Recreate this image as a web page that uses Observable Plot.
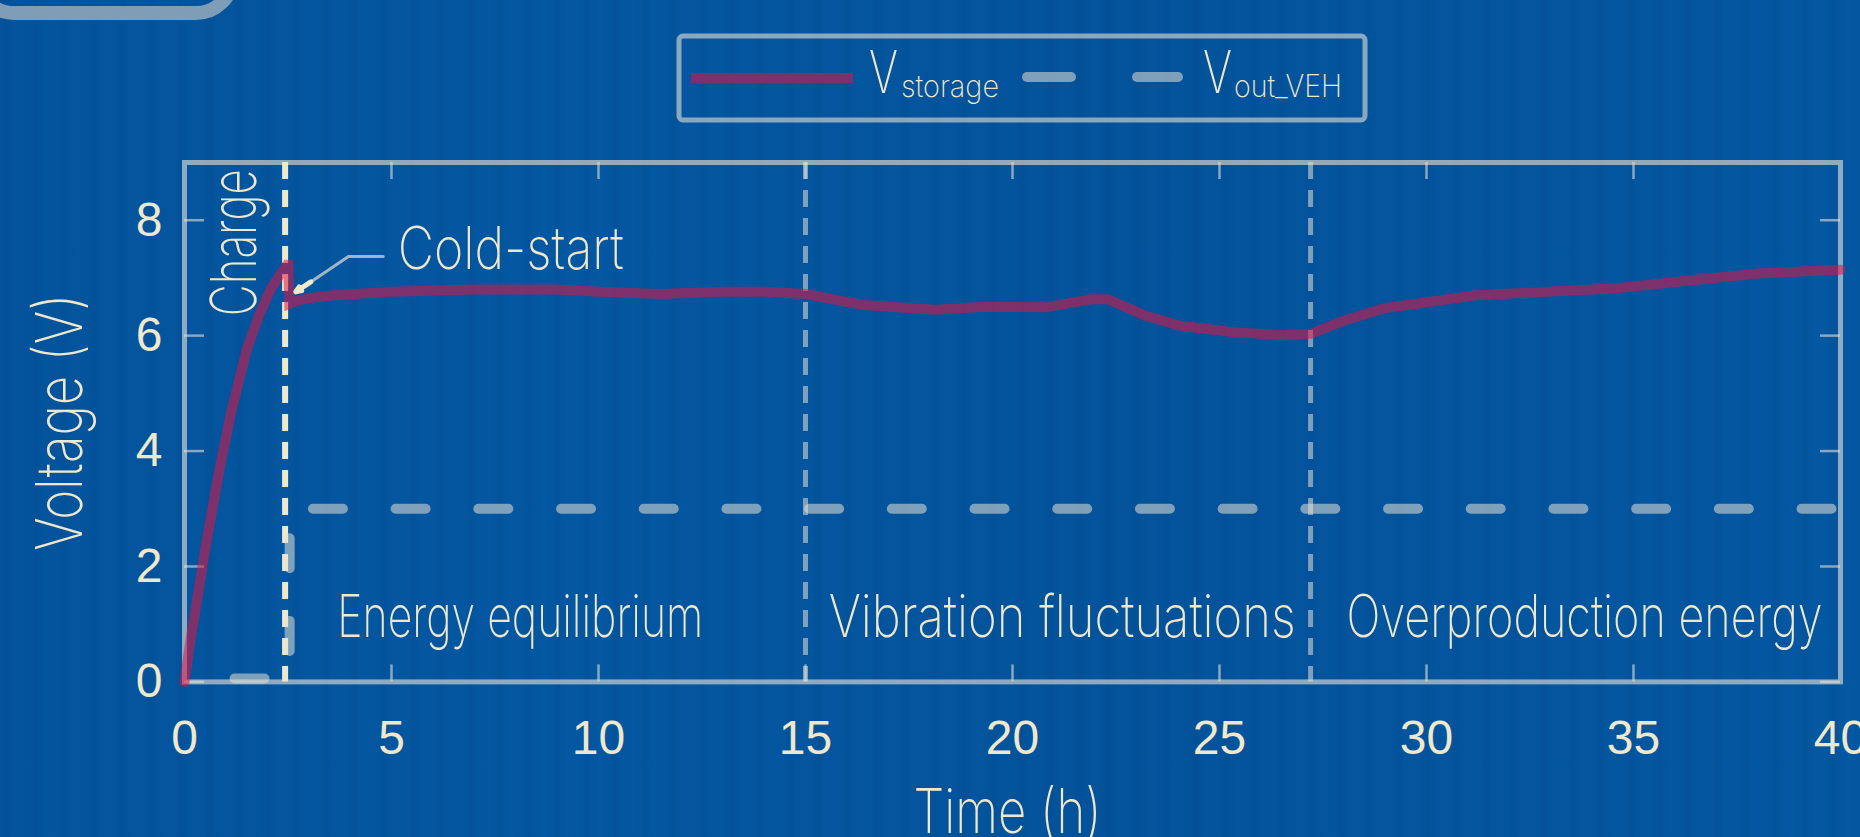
<!DOCTYPE html>
<html>
<head>
<meta charset="utf-8">
<script src="https://cdn.jsdelivr.net/npm/d3@7"></script>
<script src="https://cdn.jsdelivr.net/npm/@observablehq/plot@0.6"></script>
<style>
html, body { margin: 0; padding: 0; width: 1860px; height: 837px; overflow: hidden; }
body {
  background-color: #0357a1;
  background-image:
    repeating-linear-gradient(90deg, rgba(0,30,80,0.00) 0px, rgba(0,30,80,0.06) 7px, rgba(0,30,80,0.00) 13px, rgba(30,90,170,0.05) 21px, rgba(0,30,80,0.00) 29px),
    linear-gradient(90deg, rgba(0,20,60,0.05), rgba(0,0,0,0) 30%, rgba(0,20,60,0.06) 60%, rgba(0,0,0,0) 100%);
}
#header { position: relative; width: 1860px; height: 140px; }
#topbox { position: absolute; left: -30px; top: -70px; width: 242px; height: 62px; border: 14px solid #7e9db6; border-radius: 44px; }
#chart svg { display: block; }
</style>
</head>
<body>
<div id="header"><div id="topbox"></div></div>
<div id="chart"></div>
<script>
// ---------- data ----------
const timeH = [0, 0.15, 0.3, 0.5, 0.7, 0.85, 1.12, 1.5, 1.8, 2.08, 2.3, 2.48, 2.51, 2.53, 2.7, 3.0, 3.6, 5, 7, 9, 10, 11.5, 12.1, 13, 14.05, 15, 16.4, 18.14, 19.3, 20.8, 21.9, 22.3, 23.2, 24.05, 25.35, 26.5, 27.2, 27.93, 28.96, 31.2, 32.9, 34.6, 36.4, 38.1, 40];
const vStorage = [0, 0.75, 1.4, 2.3, 3.1, 3.7, 4.65, 5.75, 6.35, 6.8, 7.05, 7.23, 7.23, 6.55, 6.6, 6.65, 6.7, 6.76, 6.8, 6.8, 6.76, 6.72, 6.74, 6.76, 6.76, 6.72, 6.53, 6.45, 6.5, 6.49, 6.63, 6.63, 6.35, 6.17, 6.06, 6.01, 6.03, 6.24, 6.47, 6.7, 6.76, 6.82, 6.96, 7.08, 7.14];
const vOutTime = [0, 2.54, 2.54, 40];
const vOut = [0.06, 0.06, 3.0, 3.0];

const coldStartTime = [2.43];
const phaseBoundaries = [15, 27.2];
const phaseLabels = ["Energy equilibrium", "Vibration fluctuations", "Overproduction energy"];
const phaseLabelTime = [3.69, 15.56, 28.07];
const phaseLabelV = [1.1, 1.1, 1.1];

const xTicks = [0, 5, 10, 15, 20, 25, 30, 35, 40];
const yTicks = [0, 2, 4, 6, 8];
const innerXTicks = [5, 10, 15, 20, 25, 30, 35];
const innerYTicks = [0, 2, 4, 6, 8];

// annotation anchors (data units)
const chargeLabel = [{t: 1.23, v: 7.61, text: "Charge"}];
const coldLabel = [{t: 5.15, v: 7.49, text: "Cold-start"}];
const arrowShaftT = [4.8, 3.96, 3.05];
const arrowShaftV = [7.37, 7.37, 6.93];
const arrowHead = [{t1: 3.05, v1: 6.93, t2: 2.69, v2: 6.76}];

const legendMain = ["V", "V"];
const legendSub = ["storage", "out_VEH"];

// ---------- styles ----------
const cream = "#f0e8cc";
const overlay = "#e4e0d6";
const red = "rgb(225,20,65)";
const hand = "Inter, 'Noto Sans', 'DejaVu Sans', sans-serif";
const sans = "'Liberation Sans', Arial, sans-serif";

const W = 1860, H = 697;
const mT = 22, mB = 155.6, mL = 184, mR = 20;
const plotH = H - mT - mB, plotW = W - mL - mR;

const storage = timeH.map((t, i) => ({t, v: vStorage[i]}));
const out = vOutTime.map((t, i) => ({t, v: vOut[i]}));
const phases = phaseLabels.map((text, i) => ({text, t: phaseLabelTime[i], v: phaseLabelV[i]}));

const plot = Plot.plot({
  width: W, height: H,
  marginTop: mT, marginBottom: mB, marginLeft: mL, marginRight: mR,
  x: {domain: [0, 40]},
  y: {domain: [0, 9]},
  style: {background: "transparent", color: cream, overflow: "visible"},
  marks: [
    Plot.frame({stroke: overlay, strokeOpacity: 0.62, strokeWidth: 5}),
    // inner ticks
    Plot.ruleX(innerXTicks, {x: d => d, insetTop: plotH - 17, stroke: overlay, strokeOpacity: 0.6, strokeWidth: 2.5}),
    Plot.ruleX(innerXTicks, {x: d => d, insetBottom: plotH - 17, stroke: overlay, strokeOpacity: 0.6, strokeWidth: 2.5}),
    Plot.ruleY(innerYTicks, {y: d => d, insetRight: plotW - 20, stroke: overlay, strokeOpacity: 0.6, strokeWidth: 2.5}),
    Plot.ruleY(innerYTicks, {y: d => d, insetLeft: plotW - 20, stroke: overlay, strokeOpacity: 0.6, strokeWidth: 2.5}),
    Plot.axisX(xTicks, {tickSize: 0, tickPadding: 38, tickFormat: d => String(d), fontSize: 48, fontFamily: sans, fill: cream, label: null}),
    Plot.axisY(yTicks, {tickSize: 0, tickPadding: 22, tickFormat: d => String(d), fontSize: 48, fontFamily: sans, fill: cream, label: null}),
    // phase boundaries
    Plot.ruleX(phaseBoundaries, {x: d => d, stroke: overlay, strokeOpacity: 0.55, strokeWidth: 5, strokeDasharray: "17,11"}),
    Plot.ruleX(coldStartTime, {x: d => d, stroke: cream, strokeWidth: 6, strokeDasharray: "17,11"}),
    // V_out_VEH
    Plot.line(out, {x: "t", y: "v", stroke: overlay, strokeOpacity: 0.55, strokeWidth: 10, strokeLinecap: "round", strokeDasharray: "30,52.7", strokeDashoffset: 32.7}),
    // V_storage
    Plot.line(storage, {x: "t", y: "v", stroke: red, strokeOpacity: 0.55, strokeWidth: 10, strokeLinejoin: "miter", strokeMiterlimit: 6}),
    // arrow
    Plot.line(arrowShaftT.map((t, i) => ({t, v: arrowShaftV[i]})), {x: "t", y: "v", stroke: overlay, strokeOpacity: 0.7, strokeWidth: 3}),
    Plot.arrow(arrowHead, {x1: "t1", y1: "v1", x2: "t2", y2: "v2", stroke: cream, strokeWidth: 5, headLength: 20, headAngle: 45}),
    // labels
    Plot.text(phases, {x: "t", y: "v", text: "text", textAnchor: "start", lineAnchor: "middle", fontSize: 59, fontFamily: hand, fontWeight: 200, fill: cream}),
    Plot.text(coldLabel, {x: "t", y: "v", text: "text", textAnchor: "start", lineAnchor: "middle", fontSize: 59, fontFamily: hand, fontWeight: 200, fill: cream}),
    Plot.text(chargeLabel, {x: "t", y: "v", text: "text", rotate: -90, textAnchor: "middle", lineAnchor: "middle", fontSize: 63, fontFamily: hand, fontWeight: 200, fill: cream}),
    Plot.text(["Voltage (V)"], {frameAnchor: "left", dx: -122.5, rotate: -90, textAnchor: "middle", lineAnchor: "middle", fontSize: 64, fontFamily: hand, fontWeight: 200, fill: cream}),
    Plot.text(["Time (h)"], {frameAnchor: "bottom", dx: -5, dy: 131.6, textAnchor: "middle", lineAnchor: "middle", fontSize: 62, fontFamily: hand, fontWeight: 200, fill: cream})
  ]
});

const fit = {"Charge": 147, "Cold-start": 226, "Energy equilibrium": 366, "Vibration fluctuations": 467, "Overproduction energy": 476, "Voltage (V)": 257, "Time (h)": 188};
plot.querySelectorAll("text").forEach(t => {
  const w = fit[t.textContent];
  if (w) { t.setAttribute("textLength", w); t.setAttribute("lengthAdjust", "spacingAndGlyphs"); }
});
document.getElementById("chart").appendChild(plot);

// ---------- legend ----------
const lg = d3.select("#header").append("svg")
  .attr("width", W).attr("height", 140)
  .style("position", "absolute").style("left", 0).style("top", 0);
lg.append("rect").attr("x", 679).attr("y", 36).attr("width", 686).attr("height", 84).attr("rx", 4)
  .attr("fill", "none").attr("stroke", overlay).attr("stroke-opacity", 0.6).attr("stroke-width", 5);
lg.append("line").attr("x1", 691).attr("x2", 853).attr("y1", 78).attr("y2", 78)
  .attr("stroke", red).attr("stroke-opacity", 0.55).attr("stroke-width", 10);
[[1022, 1076], [1132, 1183]].forEach(([a, b]) => {
  lg.append("line").attr("x1", a + 5).attr("x2", b - 5).attr("y1", 77).attr("y2", 77)
    .attr("stroke", overlay).attr("stroke-opacity", 0.55).attr("stroke-width", 10).attr("stroke-linecap", "round");
});
const mainX = [869, 1203], subX = [901, 1234], mainW = [29, 29], subW = [98, 108];
legendMain.forEach((m, i) => {
  lg.append("text").attr("x", mainX[i]).attr("y", 93).text(m)
    .attr("fill", cream).attr("font-family", hand).attr("font-weight", 200).attr("font-size", 59)
    .attr("textLength", mainW[i]).attr("lengthAdjust", "spacingAndGlyphs");
  lg.append("text").attr("x", subX[i]).attr("y", 97).text(legendSub[i])
    .attr("fill", cream).attr("font-family", hand).attr("font-weight", 200).attr("font-size", 31)
    .attr("textLength", subW[i]).attr("lengthAdjust", "spacingAndGlyphs");
});
</script>
</body>
</html>
